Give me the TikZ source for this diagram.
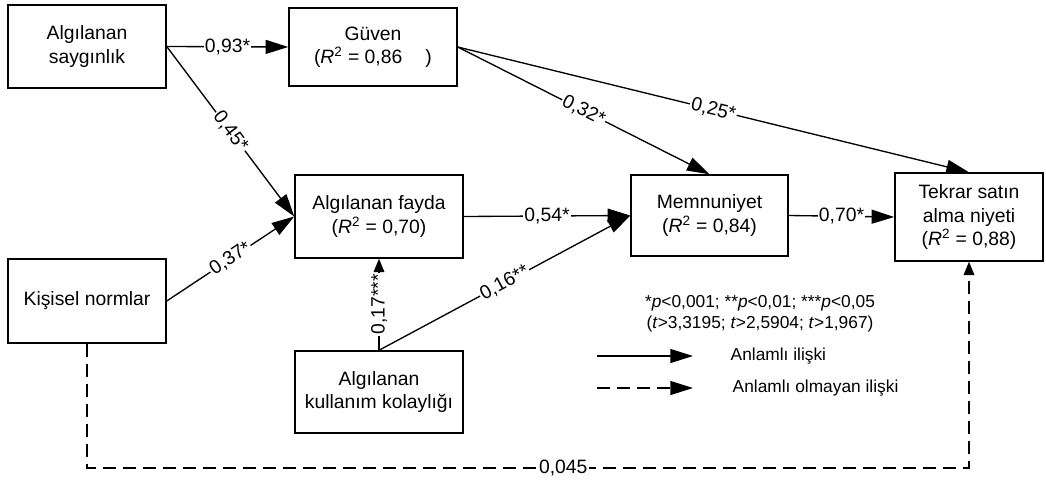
\documentclass[tikz,border=0pt]{standalone}
\usepackage{fontspec}
\setmainfont{Liberation Sans}
\usetikzlibrary{arrows.meta}
\begin{document}
\begin{tikzpicture}[x=0.75pt,y=-0.75pt,
  box/.style={draw,line width=1.1pt,align=center,inner sep=2pt,font=\fontsize{14.5}{17.5}\selectfont},
  conn/.style={line width=1pt,-{Triangle[length=17pt,width=10.5pt]}},
  connsmall/.style={line width=1pt,-{Triangle[length=10pt,width=8pt]}},
  dashline/.style={dash pattern=on 10pt off 5pt},
  lab/.style={fill=white,inner sep=1pt,font=\fontsize{14.5}{17.5}\selectfont},
  legfont/.style={font=\fontsize{13}{16}\selectfont}]
\useasboundingbox (0,0) rectangle (1046,482);
% nodes
\node[box,minimum width=118.5pt,minimum height=62.25pt] (S) at (87,46.5) {Algılanan\\saygınlık};
\node[box,minimum width=126pt,minimum height=58.5pt] (G) at (373,47) {Güven\\(\textit{R}\textsuperscript{2} = 0,86\hspace{1.2em})};
\node[box,minimum width=126pt,minimum height=62.25pt] (F) at (379,216.5) {Algılanan fayda\\(\textit{R}\textsuperscript{2} = 0,70)};
\node[box,minimum width=117.75pt,minimum height=60.75pt] (M) at (709.5,215.5) {Memnuniyet\\(\textit{R}\textsuperscript{2} = 0,84)};
\node[box,minimum width=111pt,minimum height=66pt] (T) at (969,217) {Tekrar satın\\alma niyeti\\(\textit{R}\textsuperscript{2} = 0,88)};
\node[box,minimum width=118.5pt,minimum height=63pt] (K) at (87,301) {Kişisel normlar};
\node[box,minimum width=126pt,minimum height=61.5pt] (E) at (379,392) {Algılanan\\kullanım kolaylığı};
% connectors
\draw[conn] (S.east) -- node[lab]{0,93*} (G.west);
\draw[conn] (S.east) -- node[lab,sloped]{0,45*} (F.west);
\draw[conn] (K.east) -- node[lab,sloped]{0,37*} (F.west);
\draw[connsmall] (E.north) -- node[lab,sloped]{0,17***} (F.south);
\draw[conn] (E.north) -- node[lab,sloped]{0,16**} (M.west);
\draw[conn] (F.east) -- node[lab]{0,54*} (M.west);
\draw[conn] (G.east) -- node[lab,sloped]{0,32*} (M.north);
\draw[conn] (G.east) -- node[lab,sloped]{0,25*} (T.north);
\draw[conn] (M.east) -- node[lab]{0,70*} (T.west);
\coordinate (kc) at (87,468);
\coordinate (tc) at (T.south |- kc);
\draw[connsmall,dashline] (K.south) -- (kc) -- node[lab,pos=0.54]{0,045} (tc) -- (T.south);
% legend
\node[legfont,align=center] (note) at (760,314) {*\textit{p}<0,001; **\textit{p}<0,01; ***\textit{p}<0,05\\(\textit{t}>3,3195; \textit{t}>2,5904; \textit{t}>1,967)};
\coordinate (la1) at (597,356);
\coordinate (lb1) at (693,356);
\coordinate (la2) at (597,388);
\coordinate (lb2) at (693,388);
\draw[conn] (la1) -- (lb1);
\draw[conn,dashline] (la2) -- (lb2);
\node[legfont,anchor=west] (lt1) at (726,356) {Anlamlı ilişki};
\node[legfont,anchor=west] (lt2) at (728,388) {Anlamlı olmayan ilişki};
\end{tikzpicture}
\end{document}
